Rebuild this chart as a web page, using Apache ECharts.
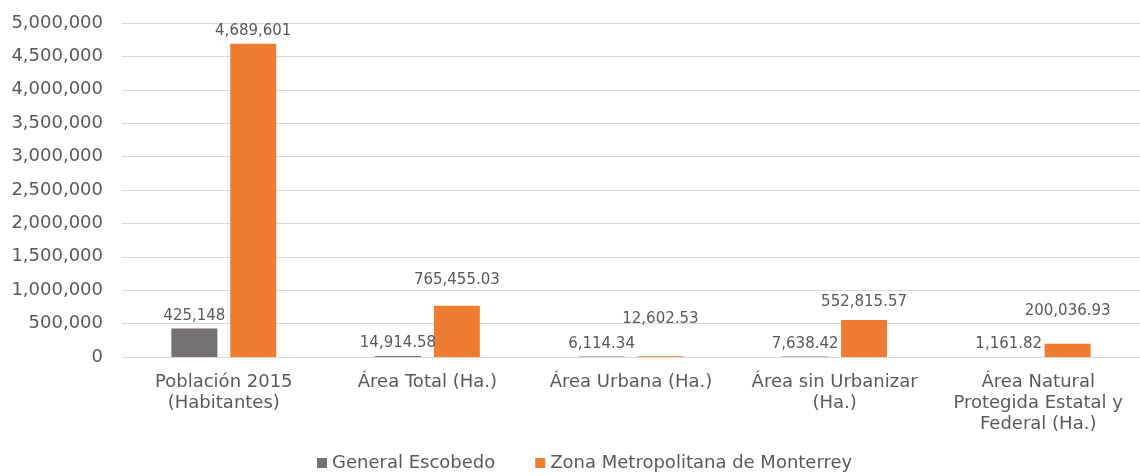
<!DOCTYPE html>
<html>
<head>
<meta charset="utf-8">
<script src="https://cdn.jsdelivr.net/npm/echarts@6/dist/echarts.min.js"></script>
<style>
  html, body { margin: 0; padding: 0; background: #ffffff; }
  #chart { width: 1140px; height: 476px; }
</style>
</head>
<body>
<div id="chart"></div>
<script>
// Categories and values
const categories = [
  'Población 2015\n(Habitantes)',
  'Área Total (Ha.)',
  'Área Urbana (Ha.)',
  'Área sin Urbanizar\n(Ha.)',
  'Área Natural\nProtegida Estatal y\nFederal (Ha.)'
];
const seriesNames = ['General Escobedo', 'Zona Metropolitana de Monterrey'];
const escobedo = [425148, 14914.58, 6114.34, 7638.42, 1161.82];
const monterrey = [4689601, 765455.03, 12602.53, 552815.57, 200036.93];
const yTicks = { min: 0, max: 5000000, interval: 500000 };

const textColor = '#595959';
const gridColor = '#d9d9d9';
const font = 'DejaVu Sans';

// Extra upward nudge for the orange data labels (px)
const labelLift = [0, 13, 25, 5, 20];

function fmtValue(v) {
  const dec = Number.isInteger(v) ? 0 : 2;
  return v.toLocaleString('en-US', { minimumFractionDigits: dec, maximumFractionDigits: dec });
}

const labelStyle = {
  show: true,
  position: 'top',
  distance: 5,
  color: textColor,
  fontFamily: font,
  fontSize: 15,
  formatter: p => fmtValue(p.value)
};

const chart = echarts.init(document.getElementById('chart'), null, { renderer: 'canvas' });
chart.setOption({
  animation: false,
  backgroundColor: '#ffffff',
  textStyle: { fontFamily: font },
  grid: { left: 122, top: 23, width: 1030, bottom: 119, containLabel: false },
  legend: {
    data: seriesNames,
    left: 312,
    top: 449,
    icon: 'rect',
    itemWidth: 10,
    itemHeight: 10,
    itemGap: 40,
    textStyle: { color: textColor, fontFamily: font, fontSize: 18 }
  },
  xAxis: {
    type: 'category',
    data: categories,
    z: 3,
    axisLine: { show: true, lineStyle: { color: gridColor, width: 1 } },
    axisTick: { show: false },
    axisLabel: {
      color: textColor,
      fontFamily: font,
      fontSize: 18,
      lineHeight: 21,
      margin: 15,
      interval: 0
    }
  },
  yAxis: {
    type: 'value',
    min: yTicks.min,
    max: yTicks.max,
    interval: yTicks.interval,
    axisLine: { show: false },
    axisTick: { show: false },
    splitLine: { lineStyle: { color: gridColor, width: 1 } },
    axisLabel: {
      color: textColor,
      fontFamily: font,
      fontSize: 18,
      margin: 19,
      formatter: v => v.toLocaleString('en-US')
    }
  },
  series: [
    {
      name: seriesNames[0],
      type: 'bar',
      data: escobedo,
      barWidth: 46,
      barGap: '28%',
      barCategoryGap: '49%',
      itemStyle: { color: '#767171' },
      label: labelStyle
    },
    {
      name: seriesNames[1],
      type: 'bar',
      data: monterrey.map((v, i) => ({
        value: v,
        label: { offset: [0, -labelLift[i]] }
      })),
      barWidth: 46,
      barGap: '28%',
      barCategoryGap: '49%',
      itemStyle: { color: '#ED7D31' },
      label: labelStyle
    }
  ]
});
</script>
</body>
</html>
